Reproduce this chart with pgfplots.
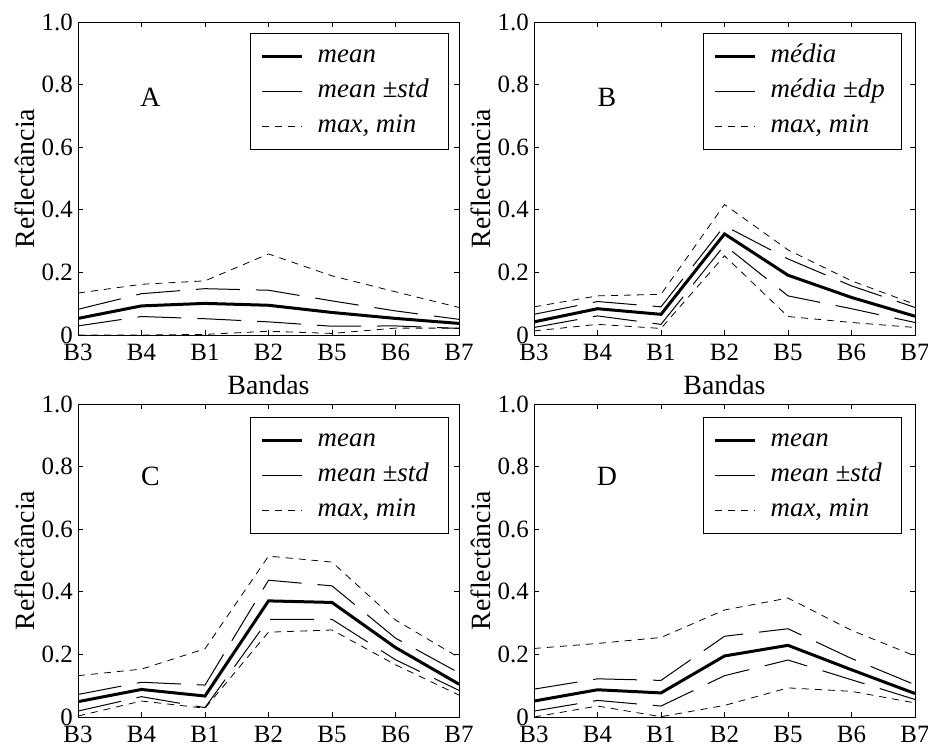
\documentclass[border=0pt]{standalone}
\usepackage{fontspec}
\setmainfont{Liberation Serif}
\usepackage{pgfplots}
\pgfplotsset{compat=1.18}
\newcommand\fs{\fontsize{25}{30}\selectfont}
\newcommand\fl{\fontsize{28}{32}\selectfont}
\newcommand\fg{\fontsize{27}{31}\selectfont}
\pgfplotsset{
  panel/.style={
    scale only axis, width=381bp, height=313bp,
    xmin=0, xmax=6, ymin=0, ymax=1,
    xtick={0,...,6}, xticklabels={B3,B4,B1,B2,B5,B6,B7},
    ytick={0,0.2,0.4,0.6,0.8,1}, yticklabels={0,0.2,0.4,0.6,0.8,1.0},
    tick align=inside, major tick length=5bp,
    tick style={black, line width=0.8bp},
    axis line style={line width=1bp},
    tick label style={font=\fs},
    xticklabel style={anchor=base, yshift=-25bp},
    yticklabel style={anchor=east, inner xsep=0pt, xshift=-5bp},
    ylabel={Reflectância},
    every axis y label/.style={at={(axis description cs:-0.14,0.5)}, rotate=90, anchor=center, font=\fl},
    every axis x label/.style={at={(axis description cs:0.5,-0.189)}, anchor=base, font=\fl},
    legend image code/.code={\draw[##1] (0bp,0bp) -- (40bp,0bp);},
    legend cell align=left,
    legend style={draw=black, line width=0.8bp, fill=white,
      font=\fg\itshape, anchor=north east,
      inner xsep=10bp, inner ysep=11bp, row sep=11bp,
      nodes={inner sep=0pt, text height=18bp, text depth=6bp},
      /tikz/every odd column/.append style={column sep=14bp}},
  },
  mean/.style={black, line width=3bp, forget plot},
  sd/.style={black, line width=1bp, dash pattern=on 44bp off 16bp, forget plot},
  mm/.style={black, line width=0.8bp, dash pattern=on 7bp off 6bp, forget plot},
}
\newcommand\leg[2]{%
  \addlegendimage{black, line width=3bp}\addlegendentry{\makebox[121bp][l]{#1}}
  \addlegendimage{black, line width=1bp}\addlegendentry{\makebox[121bp][l]{#2}}
  \addlegendimage{black, line width=0.8bp, dash pattern=on 7bp off 6bp}\addlegendentry{\makebox[121bp][l]{max, min}}
}
\begin{document}
\begin{tikzpicture}
\useasboundingbox (0,0) rectangle (928bp,-749bp);

% A
\begin{axis}[panel, at={(78bp,-22bp)}, anchor=north west, xlabel={Bandas},
  legend style={at={(0.974,0.965)}}]
\addplot[mean] coordinates {(0,0.053) (1,0.093) (2,0.101) (3,0.095) (4,0.072) (5,0.053) (6,0.037)};
\addplot[sd] coordinates {(0,0.082) (1,0.132) (2,0.148) (3,0.143) (4,0.109) (5,0.077) (6,0.050)};
\addplot[sd] coordinates {(0,0.029) (1,0.059) (2,0.052) (3,0.042) (4,0.028) (5,0.029) (6,0.021)};
\addplot[mm] coordinates {(0,0.134) (1,0.162) (2,0.173) (3,0.259) (4,0.189) (5,0.138) (6,0.088)};
\addplot[mm] coordinates {(0,0) (1,0) (2,0.002) (3,0.012) (4,0.005) (5,0.022) (6,0.022)};
\leg{mean}{mean ±std}
\node[font=\fl] at (axis cs:1.14,0.76) {A};
\end{axis}

% B
\begin{axis}[panel, at={(534bp,-22bp)}, anchor=north west, xlabel={Bandas},
  legend style={at={(0.966,0.965)}}]
\addplot[mean] coordinates {(0,0.042) (1,0.084) (2,0.066) (3,0.323) (4,0.191) (5,0.120) (6,0.060)};
\addplot[sd] coordinates {(0,0.066) (1,0.107) (2,0.090) (3,0.349) (4,0.243) (5,0.157) (6,0.088)};
\addplot[sd] coordinates {(0,0.024) (1,0.061) (2,0.034) (3,0.287) (4,0.125) (5,0.084) (6,0.040)};
\addplot[mm] coordinates {(0,0.090) (1,0.125) (2,0.130) (3,0.417) (4,0.272) (5,0.173) (6,0.098)};
\addplot[mm] coordinates {(0,0.013) (1,0.034) (2,0.021) (3,0.253) (4,0.059) (5,0.040) (6,0.024)};
\leg{média}{média ±dp}
\node[font=\fl] at (axis cs:1.15,0.76) {B};
\end{axis}

% C
\begin{axis}[panel, at={(78bp,-404bp)}, anchor=north west,
  legend style={at={(0.974,0.959)}}]
\addplot[mean] coordinates {(0,0.049) (1,0.088) (2,0.067) (3,0.371) (4,0.366) (5,0.222) (6,0.105)};
\addplot[sd] coordinates {(0,0.072) (1,0.111) (2,0.102) (3,0.437) (4,0.419) (5,0.252) (6,0.141)};
\addplot[sd] coordinates {(0,0.019) (1,0.065) (2,0.030) (3,0.312) (4,0.312) (5,0.183) (6,0.085)};
\addplot[mm] coordinates {(0,0.132) (1,0.153) (2,0.218) (3,0.514) (4,0.495) (5,0.310) (6,0.190)};
\addplot[mm] coordinates {(0,0.003) (1,0.051) (2,0.028) (3,0.271) (4,0.278) (5,0.167) (6,0.070)};
\leg{mean}{mean ±std}
\node[font=\fl] at (axis cs:1.14,0.77) {C};
\end{axis}

% D
\begin{axis}[panel, at={(534bp,-404bp)}, anchor=north west,
  legend style={at={(0.966,0.959)}}]
\addplot[mean] coordinates {(0,0.051) (1,0.087) (2,0.077) (3,0.195) (4,0.229) (5,0.151) (6,0.075)};
\addplot[sd] coordinates {(0,0.089) (1,0.122) (2,0.117) (3,0.258) (4,0.282) (5,0.187) (6,0.103)};
\addplot[sd] coordinates {(0,0.019) (1,0.053) (2,0.035) (3,0.132) (4,0.182) (5,0.119) (6,0.056)};
\addplot[mm] coordinates {(0,0.219) (1,0.235) (2,0.254) (3,0.342) (4,0.380) (5,0.277) (6,0.195)};
\addplot[mm] coordinates {(0,0) (1,0.035) (2,0.001) (3,0.037) (4,0.093) (5,0.082) (6,0.045)};
\leg{mean}{mean ±std}
\node[font=\fl] at (axis cs:1.15,0.77) {D};
\end{axis}
\end{tikzpicture}
\end{document}
